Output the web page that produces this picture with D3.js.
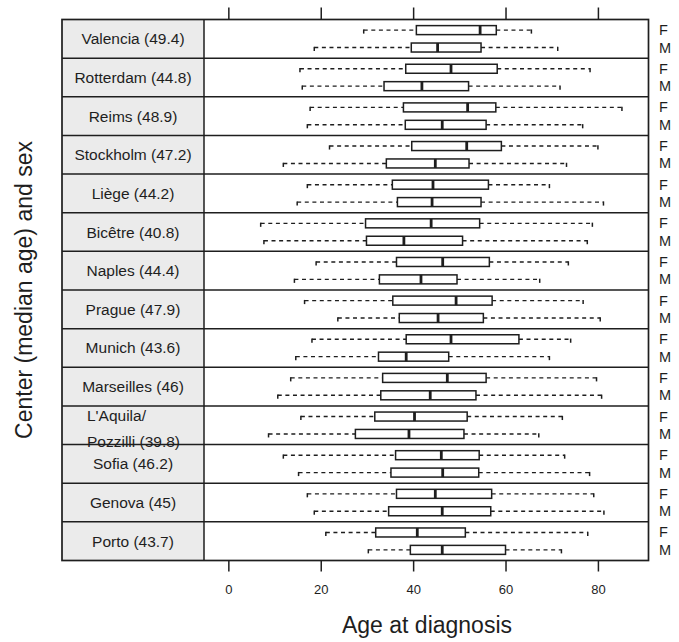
<!DOCTYPE html>
<html>
<head>
<meta charset="utf-8">
<script src="https://cdn.jsdelivr.net/npm/d3@7"></script>
<style>
  html, body { margin: 0; padding: 0; background: #fff; }
  svg { display: block; font-family: "Liberation Sans", Arial, Helvetica, sans-serif; }
</style>
</head>
<body>
<svg id="chart" width="679" height="642"></svg>
<script>
// Centres (top to bottom) with median age, and the two sexes per centre
const centers = ["Valencia (49.4)", "Rotterdam (44.8)", "Reims (48.9)", "Stockholm (47.2)",
  "Liège (44.2)", "Bicêtre (40.8)", "Naples (44.4)", "Prague (47.9)", "Munich (43.6)",
  "Marseilles (46)", "L'Aquila/\nPozzilli (39.8)", "Sofia (46.2)", "Genova (45)", "Porto (43.7)"];
const sexes = ["F", "M"];
const xTicks = [0, 20, 40, 60, 80];

// Five-number summaries per centre: [lower whisker, Q1, median, Q3, upper whisker]
const femaleStats = [
  [29.3, 40.7, 54.5, 58.0, 65.6],
  [15.5, 38.4, 48.2, 58.2, 78.3],
  [17.7, 37.9, 51.8, 57.9, 85.2],
  [21.9, 39.7, 51.6, 59.1, 80.0],
  [17.1, 35.5, 44.3, 56.3, 69.5],
  [7.0, 29.7, 43.9, 54.4, 78.8],
  [19.0, 36.4, 46.4, 56.5, 73.6],
  [16.5, 35.6, 49.3, 57.1, 76.8],
  [18.1, 38.5, 48.2, 62.9, 74.1],
  [13.5, 33.4, 47.4, 55.8, 79.7],
  [15.7, 31.7, 40.3, 51.7, 72.3],
  [11.9, 36.2, 46.1, 54.3, 72.8],
  [17.1, 36.4, 44.8, 57.0, 79.1],
  [21.1, 31.9, 40.9, 51.3, 77.8]
];
const maleStats = [
  [18.6, 39.6, 45.3, 54.7, 71.3],
  [16.0, 33.7, 41.9, 52.0, 71.8],
  [17.1, 38.3, 46.3, 55.8, 76.7],
  [11.9, 34.2, 44.8, 52.1, 73.2],
  [14.9, 36.6, 44.1, 54.7, 81.2],
  [7.7, 29.9, 38.0, 50.7, 77.7],
  [14.3, 32.7, 41.7, 49.5, 67.4],
  [23.7, 37.0, 45.4, 55.2, 80.5],
  [14.6, 32.5, 38.5, 47.7, 69.5],
  [10.7, 33.0, 43.7, 53.6, 80.8],
  [8.7, 27.5, 39.1, 51.0, 67.2],
  [15.2, 35.2, 46.4, 54.2, 78.2],
  [18.6, 34.7, 46.3, 56.8, 81.3],
  [30.3, 39.4, 46.3, 60.0, 72.1]
];

const ink = "#1e1e1e";
const svg = d3.select("#chart");

// Panel geometry
const frameL = 62, stripR = 204, frameR = 648.5, frameT = 19.5, frameB = 560.5;

const x = d3.scaleLinear().domain([-5.27, 90.95]).range([stripR, frameR]);
const yRow = d3.scaleBand().domain(centers).range([frameT, frameB]);
const ySex = d3.scalePoint().domain(sexes).range([0, yRow.bandwidth()]).padding(0.61);
const boxH = 9;

const rows = centers.map((c, i) => ({ center: c, F: femaleStats[i], M: maleStats[i] }));

// Strip cells on the left
svg.append("g").selectAll("rect")
  .data(centers).join("rect")
  .attr("x", frameL).attr("y", d => yRow(d))
  .attr("width", stripR - frameL).attr("height", yRow.bandwidth())
  .attr("fill", "#ebebeb");

const stripText = svg.append("g").attr("fill", ink).attr("font-size", 15.5);
centers.forEach(c => {
  const lines = c.split("\n");
  const cy = yRow(c) + yRow.bandwidth() / 2;
  if (lines.length === 1) {
    stripText.append("text")
      .attr("x", (frameL + stripR) / 2).attr("y", cy)
      .attr("text-anchor", "middle").attr("dominant-baseline", "central")
      .text(c);
  } else {
    stripText.append("text")
      .attr("x", 87).attr("y", cy - 10)
      .attr("dominant-baseline", "central").text(lines[0]);
    stripText.append("text")
      .attr("x", 87).attr("y", cy + 16)
      .attr("dominant-baseline", "central").text(lines[1]);
  }
});

// Box-and-whisker marks
const marks = svg.append("g").attr("stroke", ink).attr("fill", "none");
rows.forEach(r => {
  sexes.forEach(s => {
    const [lo, q1, med, q3, hi] = r[s];
    const cy = yRow(r.center) + ySex(s);
    const g = marks.append("g");
    // whiskers (dashed) with short end caps
    g.append("line").attr("x1", x(lo)).attr("x2", x(q1)).attr("y1", cy).attr("y2", cy)
      .attr("stroke-width", 1.4).attr("stroke-dasharray", "4,3.6");
    g.append("line").attr("x1", x(q3)).attr("x2", x(hi)).attr("y1", cy).attr("y2", cy)
      .attr("stroke-width", 1.4).attr("stroke-dasharray", "4,3.6");
    [lo, hi].forEach(v => {
      g.append("line").attr("x1", x(v)).attr("x2", x(v)).attr("y1", cy - 0.7).attr("y2", cy + 3.5)
        .attr("stroke-width", 1.5);
    });
    // box
    g.append("rect").attr("x", x(q1)).attr("y", cy - boxH / 2)
      .attr("width", x(q3) - x(q1)).attr("height", boxH)
      .attr("fill", "#fff").attr("stroke-width", 1.5);
    // median
    g.append("line").attr("x1", x(med)).attr("x2", x(med))
      .attr("y1", cy - boxH / 2).attr("y2", cy + boxH / 2)
      .attr("stroke-width", 2.8);
  });
});

// Row separators and outer frame
svg.append("g").selectAll("line")
  .data(centers.slice(1)).join("line")
  .attr("x1", frameL).attr("x2", frameR)
  .attr("y1", d => yRow(d)).attr("y2", d => yRow(d))
  .attr("stroke", ink).attr("stroke-width", 1.5);
svg.append("line").attr("x1", stripR).attr("x2", stripR).attr("y1", frameT).attr("y2", frameB)
  .attr("stroke", ink).attr("stroke-width", 1.5);
svg.append("rect").attr("x", frameL).attr("y", frameT)
  .attr("width", frameR - frameL).attr("height", frameB - frameT)
  .attr("fill", "none").attr("stroke", ink).attr("stroke-width", 1.7);

// Sex labels on the right
const sexLabels = svg.append("g").attr("fill", ink).attr("font-size", 14.5);
centers.forEach(c => {
  sexes.forEach(s => {
    sexLabels.append("text").attr("x", 659).attr("y", yRow(c) + ySex(s))
      .attr("dominant-baseline", "central").text(s);
  });
});

// Axes: ticks on top (no labels), ticks and labels at the bottom
const topAxis = d3.axisTop(x).tickValues(xTicks).tickSize(12).tickFormat("");
svg.append("g").attr("transform", `translate(0,${frameT})`).call(topAxis)
  .call(g => g.select(".domain").remove())
  .call(g => g.selectAll("line").attr("stroke", ink).attr("stroke-width", 1.5));

const bottomAxis = d3.axisBottom(x).tickValues(xTicks).tickSize(11).tickPadding(13)
  .tickFormat(d3.format("d"));
svg.append("g").attr("transform", `translate(0,${frameB})`).call(bottomAxis)
  .call(g => g.select(".domain").remove())
  .call(g => g.selectAll("line").attr("stroke", ink).attr("stroke-width", 1.5))
  .call(g => g.selectAll("text").attr("fill", ink).attr("font-size", 13)
    .attr("font-family", '"Liberation Sans", Arial, sans-serif'));

// Axis titles
svg.append("text").attr("x", 427).attr("y", 633)
  .attr("text-anchor", "middle").attr("font-size", 23).attr("fill", ink)
  .text("Age at diagnosis");
svg.append("text")
  .attr("transform", `translate(32,${(frameT + frameB) / 2}) rotate(-90)`)
  .attr("text-anchor", "middle").attr("font-size", 23).attr("fill", ink)
  .text("Center (median age) and sex");
</script>
</body>
</html>
